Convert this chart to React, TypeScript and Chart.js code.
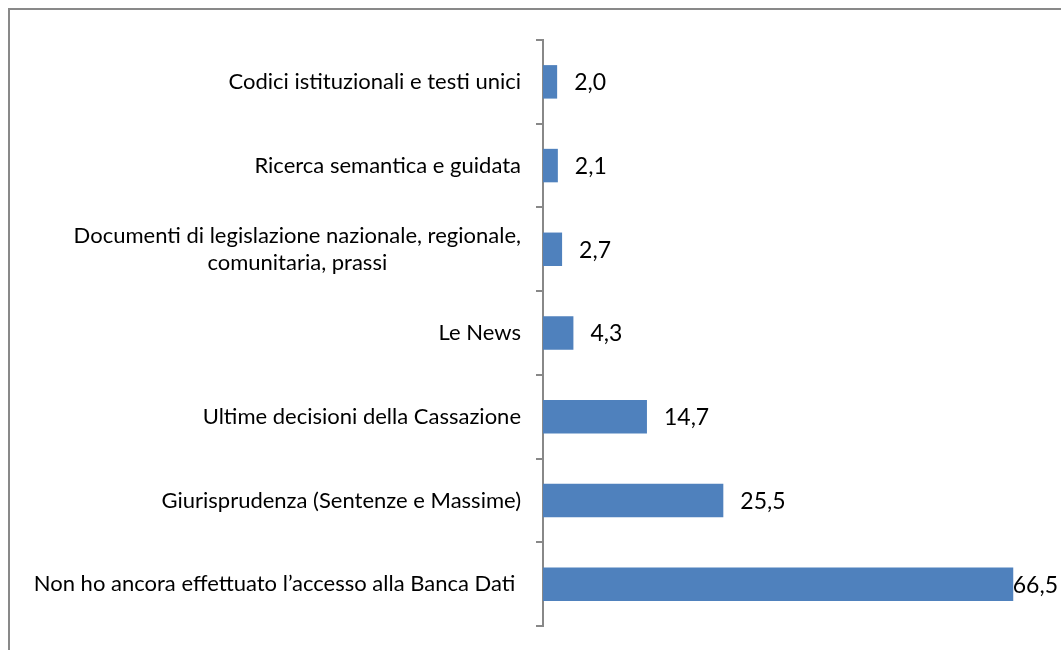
import React, { useEffect, useRef } from "react";
import { Chart, registerables } from "chart.js";

Chart.register(...registerables);

const categories: string[][] = [
  ["Codici istituzionali e testi unici"],
  ["Ricerca semantica e guidata"],
  ["Documenti di legislazione nazionale, regionale,", "comunitaria, prassi"],
  ["Le News"],
  ["Ultime decisioni della Cassazione"],
  ["Giurisprudenza (Sentenze e Massime)"],
  ["Non ho ancora effettuato l\u2019accesso alla Banca Dati "],
];
const values: number[] = [2.0, 2.1, 2.7, 4.3, 14.7, 25.5, 66.5];
const axisMax = 70;

const FONT = "Lato, 'Open Sans', sans-serif";
const AXIS_COLOR = "#888888";
const BAR_COLOR = "#4F81BD";

const labelsPlugin = {
  id: "customLabels",
  afterDraw(chart: any) {
    const ctx = chart.ctx;
    const yScale = chart.scales.y;
    const xScale = chart.scales.x;
    const area = chart.chartArea;
    ctx.save();
    ctx.fillStyle = "#000";
    ctx.textBaseline = "middle";
    // category labels
    ctx.font = `22px ${FONT}`;
    const lineH = 27;
    const right = area.left - 22;
    categories.forEach((lines, i) => {
      const cy = yScale.getPixelForValue(i);
      const w = Math.max(...lines.map((l) => ctx.measureText(l).width));
      const cx = right - w / 2;
      ctx.textAlign = "center";
      lines.forEach((l, j) => {
        const y = cy + (j - (lines.length - 1) / 2) * lineH;
        ctx.fillText(l, cx, y);
      });
    });
    // value labels
    ctx.font = `23px ${FONT}`;
    ctx.textAlign = "left";
    values.forEach((v, i) => {
      const txt = v.toFixed(1).replace(".", ",");
      const tw = ctx.measureText(txt).width;
      const end = xScale.getPixelForValue(v);
      const x = Math.min(end + 17, chart.width - tw - 3);
      ctx.fillText(txt, x, yScale.getPixelForValue(i) + 1);
    });
    ctx.restore();
  },
};

export default function App() {
  const ref = useRef<HTMLCanvasElement | null>(null);
  useEffect(() => {
    if (!ref.current) return;
    const chart = new Chart(ref.current, {
      type: "bar",
      data: {
        labels: categories.map((c) => c.join(" ")),
        datasets: [
          {
            data: values,
            backgroundColor: BAR_COLOR,
            borderWidth: 0,
            barPercentage: 0.4,
            categoryPercentage: 1,
          },
        ],
      },
      options: {
        indexAxis: "y",
        animation: false,
        responsive: false,
        maintainAspectRatio: false,
        layout: { padding: { top: 30, bottom: 24, right: 23, left: 0 } },
        plugins: { legend: { display: false }, tooltip: { enabled: false } },
        scales: {
          x: { display: false, min: 0, max: axisMax },
          y: {
            display: true,
            ticks: { display: false },
            grid: {
              display: true,
              drawOnChartArea: false,
              drawTicks: true,
              tickLength: 7,
              color: AXIS_COLOR,
              lineWidth: 2,
              offset: true,
            },
            border: { display: true, color: AXIS_COLOR, width: 2 },
            afterFit(scale: any) {
              scale.width = 533;
            },
          },
        },
      },
      plugins: [labelsPlugin],
    });
    return () => chart.destroy();
  }, []);
  return (
    <div
      style={{
        position: "fixed",
        left: 8,
        top: 8,
        width: 1053,
        height: 642,
        boxSizing: "border-box",
        borderTop: "2px solid #898989",
        borderLeft: "2px solid #898989",
        overflow: "hidden",
        background: "#fff",
      }}
    >
      <canvas ref={ref} width={1051} height={640} style={{ display: "block" }} />
    </div>
  );
}
